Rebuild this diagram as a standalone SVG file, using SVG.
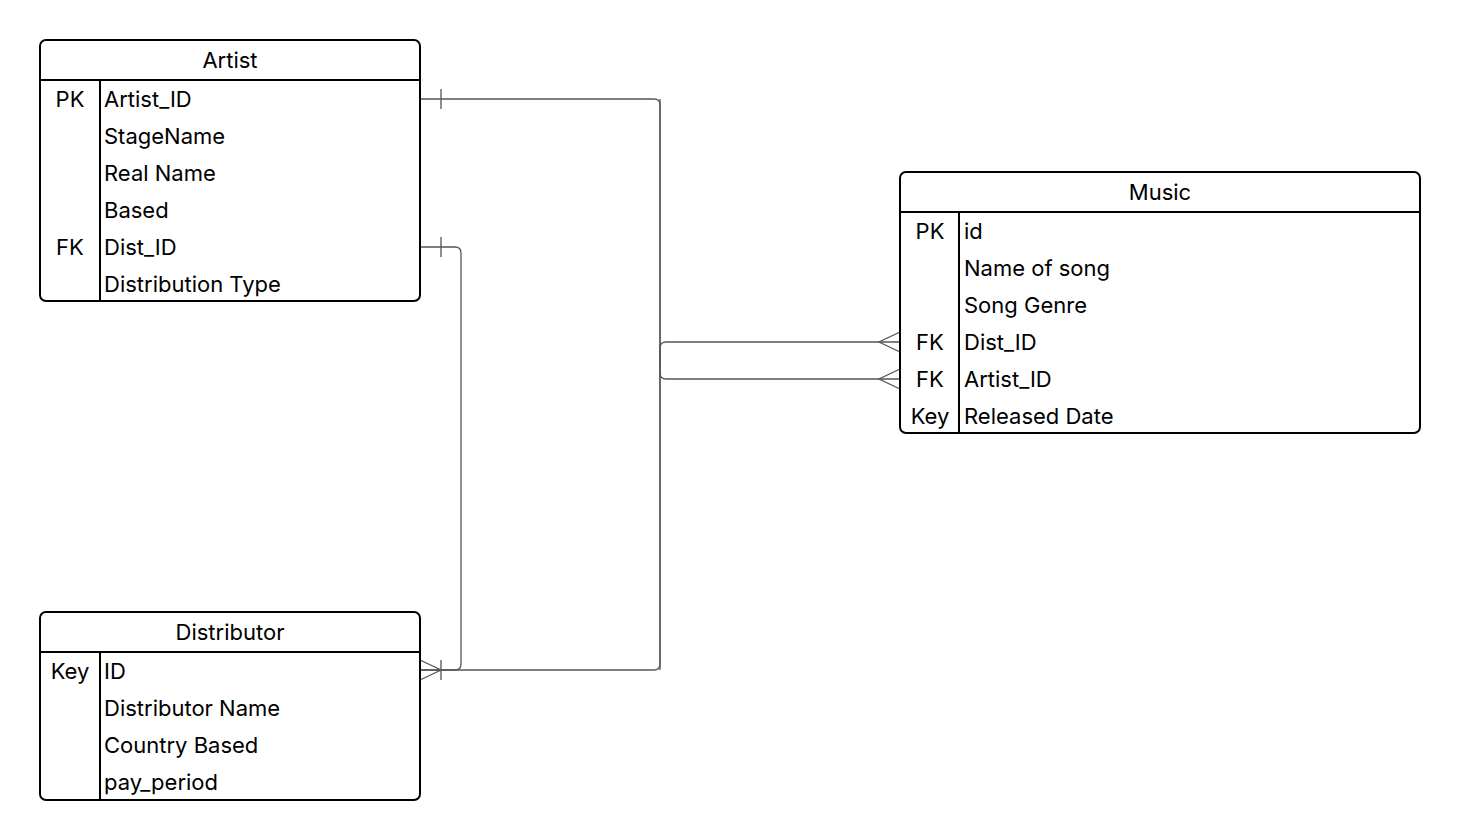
<svg xmlns="http://www.w3.org/2000/svg" width="1460" height="840" viewBox="0 0 1460 840">
<style>
.box{fill:#fff;stroke:#000;stroke-width:2}
.ln{stroke:#000;stroke-width:2;fill:none}
.t{font-family:Inter,"Liberation Sans",sans-serif;font-size:22px;fill:#000;dominant-baseline:central}
.h{text-anchor:middle}
.k{text-anchor:middle}
.c{fill:none;stroke:#555;stroke-width:1.3}
</style>
<rect width="1460" height="840" fill="#fff"/>
<g id="connectors">
<path class="c" d="M420,99 H654 Q660,99 660,105 V664 Q660,670 654,670 H420"/>
<path class="c" d="M900,342 H666 Q660,342 660,348 V670"/>
<path class="c" d="M900,379 H666 Q660,379 660,373 V99"/>
<path class="c" d="M420,247 H455 Q461,247 461,253 V664 Q461,670 455,670 H420"/>
<path class="c" d="M441,89 V109 M441,237 V257 M441,660 V680 M420,660 L441,670 L420,680 M900,332 L879,342 L900,352 M900,369 L879,379 L900,389"/>
</g>
<g id="artist">
<rect class="box" x="40" y="40" width="380" height="261" rx="6"/>
<path class="ln" d="M40,80 H420 M100,80 V301"/>
<text class="t h" x="230" y="60">Artist</text>
<text class="t k" x="70" y="99">PK</text>
<text class="t k" x="70" y="247">FK</text>
<text class="t" x="104" y="99">Artist_ID</text>
<text class="t" x="104" y="136">StageName</text>
<text class="t" x="104" y="173">Real Name</text>
<text class="t" x="104" y="210">Based</text>
<text class="t" x="104" y="247">Dist_ID</text>
<text class="t" x="104" y="284">Distribution Type</text>
</g>
<g id="distributor">
<rect class="box" x="40" y="612" width="380" height="188" rx="6"/>
<path class="ln" d="M40,652 H420 M100,652 V800"/>
<text class="t h" x="230" y="632">Distributor</text>
<text class="t k" x="70" y="671">Key</text>
<text class="t" x="104" y="671">ID</text>
<text class="t" x="104" y="708">Distributor Name</text>
<text class="t" x="104" y="745">Country Based</text>
<text class="t" x="104" y="782">pay_period</text>
</g>
<g id="music">
<rect class="box" x="900" y="172" width="520" height="261" rx="6"/>
<path class="ln" d="M900,212 H1420 M959,212 V433"/>
<text class="t h" x="1160" y="192">Music</text>
<text class="t k" x="930" y="231">PK</text>
<text class="t k" x="930" y="342">FK</text>
<text class="t k" x="930" y="379">FK</text>
<text class="t k" x="930" y="416">Key</text>
<text class="t" x="964" y="231">id</text>
<text class="t" x="964" y="268">Name of song</text>
<text class="t" x="964" y="305">Song Genre</text>
<text class="t" x="964" y="342">Dist_ID</text>
<text class="t" x="964" y="379">Artist_ID</text>
<text class="t" x="964" y="416">Released Date</text>
</g>
</svg>
